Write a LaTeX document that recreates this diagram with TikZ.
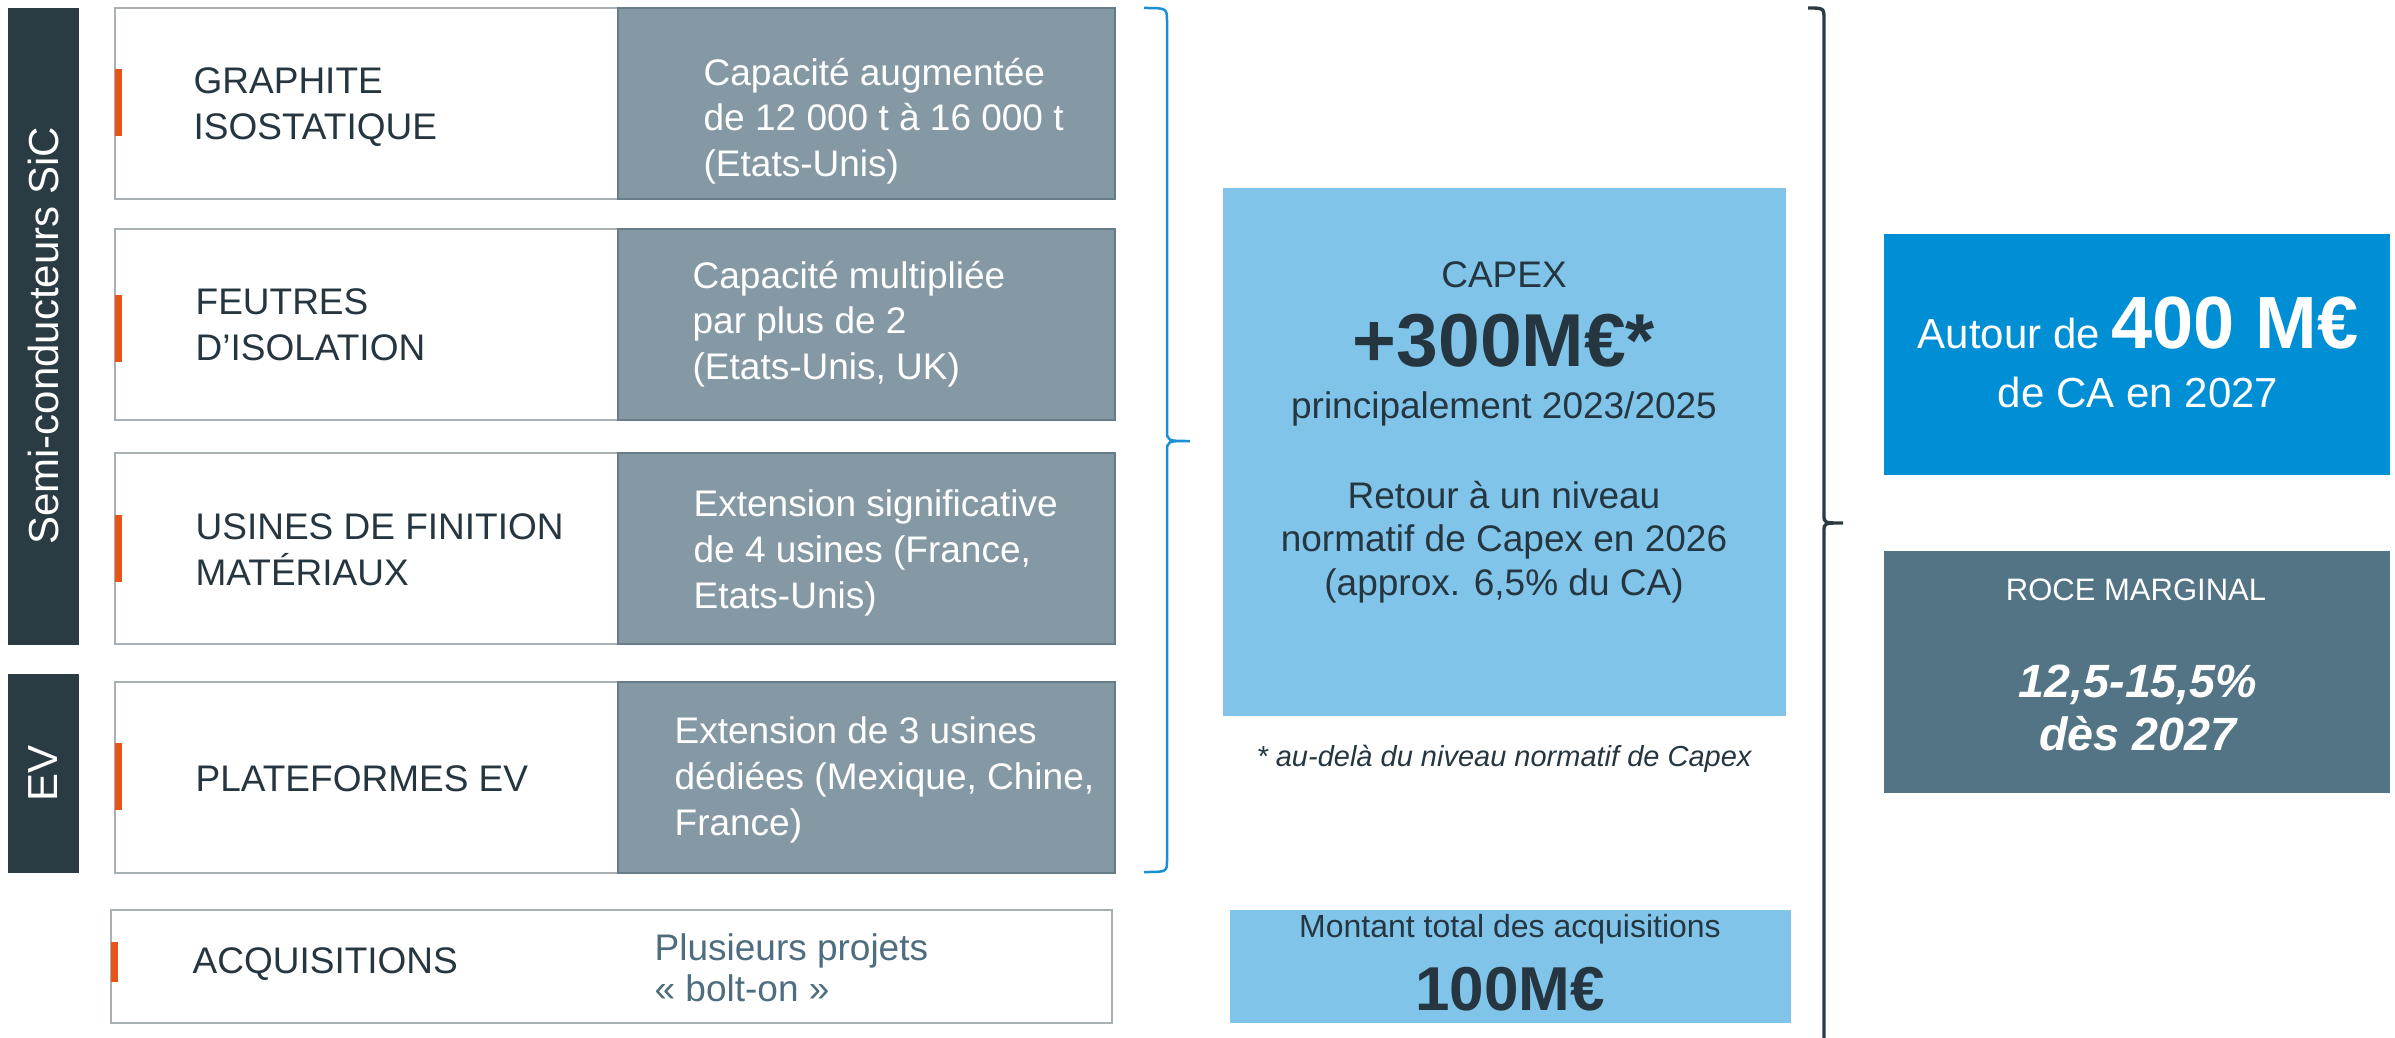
\documentclass[tikz,border=0pt]{standalone}
\usepackage{fontspec}
\setmainfont{Liberation Sans}
\definecolor{darkbar}{HTML}{2A3B44}
\definecolor{greybox}{HTML}{8599A4}
\definecolor{greyedge}{HTML}{667C88}
\definecolor{lightedge}{HTML}{A9B0B3}
\definecolor{orangem}{HTML}{E8531A}
\definecolor{lightblue}{HTML}{80C4E9}
\definecolor{brightblue}{HTML}{008FD5}
\definecolor{rocec}{HTML}{527484}
\definecolor{txt}{HTML}{263640}
\definecolor{acqtxt}{HTML}{4E6E80}
\definecolor{bracebl}{HTML}{1A8FD6}
\def\u{0.3pt}
\begin{document}
\begin{tikzpicture}[x=0.3pt,y=-0.3pt,
  rect/.style={inner sep=0pt, outer sep=0pt, anchor=north west},
  whitepart/.style={rect, fill=white, draw=lightedge, line width=0.75pt, minimum width=503*\u, minimum height=191*\u},
  greypart/.style={rect, fill=greybox, draw=greyedge, line width=0.7pt, minimum width=497*\u, minimum height=191*\u},
  marker/.style={inner sep=0pt, outer sep=0pt, anchor=west, fill=orangem, minimum width=7*\u, minimum height=67*\u},
  sidebar/.style={rect, fill=darkbar, minimum width=71*\u},
  sidetxt/.style={rotate=90, text=white, inner sep=0pt, font=\fontsize{12.6}{15}\selectfont},
  lbl/.style={anchor=west, align=left, text=txt, inner sep=0pt, font=\fontsize{11.1}{13.8}\selectfont},
  rtx/.style={anchor=west, align=left, text=white, inner sep=0pt, font=\fontsize{11.1}{13.7}\selectfont},
  ctr/.style={anchor=center, align=center, text=txt, inner sep=0pt},
  bsl/.style={anchor=base, align=center, text=white, inner sep=0pt}
]
\useasboundingbox (0,0) rectangle (2395,1037);

% side bars
\node[sidebar, minimum height=637*\u] (semi) at (8,8) {};
\node[sidetxt] (semit) at (43,336) {Semi-conducteurs SiC};
\node[sidebar, minimum height=199*\u] (ev) at (8,674) {};
\node[sidetxt] (evt) at (43,773) {EV};

% rows
\node[whitepart] (w1) at (115,8) {};
\node[greypart] (g1) at (618,8) {};
\node[whitepart] (w2) at (115,229) {};
\node[greypart] (g2) at (618,229) {};
\node[whitepart] (w3) at (115,453) {};
\node[greypart] (g3) at (618,453) {};
\node[whitepart] (w4) at (115,682) {};
\node[greypart] (g4) at (618,682) {};
\node[rect, fill=white, draw=lightedge, line width=0.75pt, minimum width=1001*\u, minimum height=113*\u] (w5) at (111,910) {};

\node[marker] (m1) at (115,103) {};
\node[marker] (m2) at (115,328) {};
\node[marker] (m3) at (115,548) {};
\node[marker] (m4) at (115,776) {};
\node[marker, minimum height=40*\u] (m5) at (111,962) {};

\node[lbl] (l1) at (193,107) {GRAPHITE\\ISOSTATIQUE};
\node[lbl] (l2) at (195,325) {FEUTRES\\D’ISOLATION};
\node[lbl] (l3) at (195,550) {USINES DE FINITION\\MATÉRIAUX};
\node[lbl] (l4) at (195,779) {PLATEFORMES EV};
\node[lbl] (l5) at (192,964) {ACQUISITIONS};

\node[rtx] (r1) at (703,121) {Capacité augmentée\\de 12 000 t à 16 000 t\\(Etats-Unis)};
\node[rtx] (r2) at (692,324) {Capacité multipliée\\par plus de 2\\(Etats-Unis, UK)};
\node[rtx] (r3) at (693,553) {Extension significative\\de 4 usines (France,\\Etats-Unis)};
\node[rtx] (r4) at (674,780) {Extension de 3 usines\\dédiées (Mexique, Chine,\\France)};
\node[lbl, text=acqtxt, font=\fontsize{11.1}{12.4}\selectfont] (r5) at (654,968) {Plusieurs projets\\« bolt-on »};

% blue brace
\draw[bracebl, line width=0.75pt] (1144,8) .. controls (1167,8) .. (1167,22) -- (1167,430) .. controls (1167,441) .. (1190,441)
  .. controls (1167,441) .. (1167,452) -- (1167,860) .. controls (1167,872) .. (1144,872);

% CAPEX box
\node[rect, fill=lightblue, minimum width=563*\u, minimum height=528*\u] (capex) at (1223,188) {};
\node[ctr, font=\fontsize{11.1}{13}\selectfont] (c1) at (1504,275) {CAPEX};
\node[ctr, font=\fontsize{22.5}{26}\bfseries\selectfont] (c2) at (1504,341) {+300M€*};
\node[ctr, font=\fontsize{11.1}{13}\selectfont] (c3) at (1504,409) {principalement 2023/2025};
\node[ctr, font=\fontsize{11.1}{13.1}\selectfont] (c4) at (1504,542) {Retour à un niveau\\normatif de Capex en 2026\\(approx. 6,5\% du CA)};
\node[ctr, font=\fontsize{8.7}{10}\itshape\selectfont] (fn) at (1504,759) {* au-delà du niveau normatif de Capex};

% acquisitions amount
\node[rect, fill=lightblue, minimum width=561*\u, minimum height=113*\u] (acq) at (1230,910) {};
\node[ctr, font=\fontsize{9.6}{11}\selectfont] (a1) at (1510,929) {Montant total des acquisitions};
\node[ctr, font=\fontsize{18.6}{22}\bfseries\selectfont] (a2) at (1510,989) {100M€};

% dark brace
\draw[darkbar, line width=1pt] (1808,8) .. controls (1824,8) .. (1824,20) -- (1824,515) .. controls (1824,523) .. (1843,523)
  .. controls (1824,523) .. (1824,531) -- (1824,1040);

% right boxes
\node[rect, fill=brightblue, minimum width=506*\u, minimum height=241*\u] (ca) at (1884,234) {};
\node[bsl] (ca1) at (2138,348) {{\fontsize{12.6}{15}\selectfont Autour de }{\fontsize{22.2}{26}\bfseries\selectfont 400 M€}};
\node[bsl, font=\fontsize{12.6}{15}\selectfont] (ca2) at (2138,407) {de CA en 2027};

\node[rect, fill=rocec, minimum width=506*\u, minimum height=242*\u] (roce) at (1884,551) {};
\node[ctr, text=white, font=\fontsize{9.3}{11}\selectfont] (ro1) at (2136,590) {ROCE MARGINAL};
\node[ctr, text=white, font=\fontsize{14}{16}\bfseries\itshape\selectfont] (ro2) at (2138,708) {12,5-15,5\%\\dès 2027};
\end{tikzpicture}
\end{document}
